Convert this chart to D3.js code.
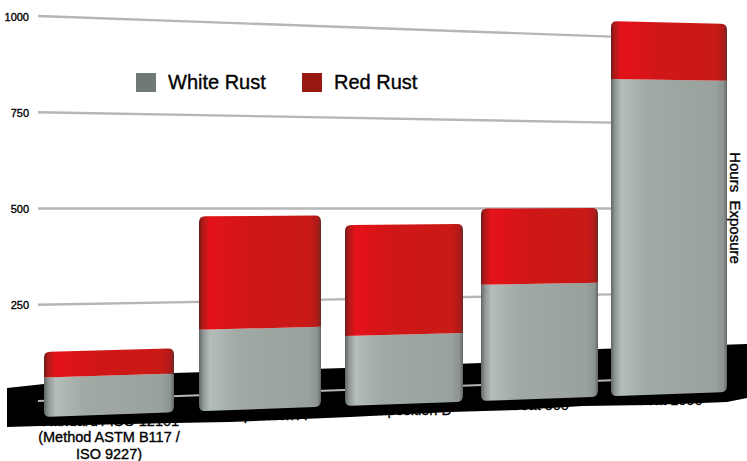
<!DOCTYPE html>
<html lang="en">
<head>
  <meta charset="UTF-8">
  <title>Hours Exposure - White Rust and Red Rust</title>
  <script src="https://d3js.org/d3.v7.min.js"></script>
  <style>
    html, body { margin: 0; padding: 0; background: #fff; }
    text { font-family: "Liberation Sans", Arial, sans-serif; fill: #000; stroke: #000; stroke-width: 0.35px; }
  </style>
</head>
<body>
  <div id="chart"></div>
  <script>
    const categories = ["Standard / ISO 12101", "Composition A", "Composition B", "Coat 500", "Coat 1000"];
    const whiteRust = [97, 205, 180, 305, 850];
    const redRust = [63, 285, 285, 200, 155];
    const yTicks = [0, 250, 500, 750, 1000];
    const seriesNames = ["White Rust", "Red Rust"];

    const width = 747, height = 461;

    const svg = d3.select("#chart").append("svg")
      .attr("width", width)
      .attr("height", height)
      .style("display", "block");

    // bars get narrower to the right, so the band scale goes through a warp
    const band = d3.scaleBand().domain(categories).range([0, 5]).paddingInner(0.15).paddingOuter(0.075);
    const warp = d3.scaleLinear()
      .domain(categories.flatMap(d => [band(d), band(d) + band.bandwidth()]))
      .range([44, 174, 199, 321, 345, 463, 481, 598, 611, 727]);

    // front plane of the bars
    const frontBase = d3.scaleLinear().domain([0, 747]).range([418.6, 391.3]);
    const frontK = d3.scaleLinear().domain([0, 747]).range([0.41, 0.365]);
    const frontY = (v, x) => frontBase(x) - v * frontK(x);

    // gridlines sit further back and fan out from the left side
    const gridLeft = d3.scaleLinear().domain([0, 1000]).range([401, 16]);
    const gridSlope = d3.scaleLinear().domain([0, 1000]).range([-0.036, 0.036]);
    const gridY = (v, x) => gridLeft(v) + (x - 38) * gridSlope(v);

    const defs = svg.append("defs");
    function shade(id, stops) {
      const g = defs.append("linearGradient").attr("id", id);
      stops.forEach(s => g.append("stop").attr("offset", s[0]).attr("stop-color", s[1]));
    }
    shade("grayShade", [[0, "#5f6665"], [0.035, "#8f9896"], [0.09, "#b4bdb9"], [0.3, "#a2aaa6"], [0.9, "#99a19d"], [0.97, "#8c9491"], [1, "#5f6665"]]);
    shade("redShade", [[0, "#6e1a18"], [0.03, "#b01a18"], [0.09, "#e5121a"], [0.4, "#d01616"], [0.9, "#c91a16"], [0.97, "#b01a18"], [1, "#6e2a26"]]);

    // gridlines
    svg.append("g").selectAll("line")
      .data(yTicks)
      .enter().append("line")
      .attr("x1", 38)
      .attr("x2", 612)
      .attr("y1", d => gridY(d, 38))
      .attr("y2", d => gridY(d, 612))
      .attr("stroke", "#b6b6b6")
      .attr("stroke-width", 2.4);

    // tick labels
    svg.append("g").selectAll("text")
      .data(yTicks.filter(d => d > 0))
      .enter().append("text")
      .attr("x", 29)
      .attr("y", d => gridLeft(d) + 4.5)
      .attr("text-anchor", "end")
      .attr("font-size", 11)
      .text(d => d);

    // category labels, the top lines end up under the black band
    const labelLines = [[categories[0], "(Method ASTM B117 /", "ISO 9227)"], [categories[1]], [categories[2]], [categories[3]], [categories[4]]];
    const labelY = d3.scaleLinear().domain([0, 747]).range([430, 402.5]);
    const labels = svg.append("g").selectAll("text")
      .data(categories)
      .enter().append("text")
      .attr("font-size", 14.5)
      .attr("text-anchor", "middle");
    labels.each(function(d, i) {
      const cx = warp(band(d) + band.bandwidth() / 2);
      labelLines[i].forEach((t, j) => {
        d3.select(this).append("tspan")
          .attr("x", cx)
          .attr("y", labelY(cx) + j * 16.5)
          .text(t);
      });
    });

    // black band along the foot of the chart
    const bandTop = [[7, 388], [44, 384], [174, 373], [345, 368], [481, 363], [598, 349], [747, 344]];
    const bandBottom = [[747, 398], [727, 402], [650, 405], [583, 406], [517, 410], [450, 412], [350, 417], [230, 422], [174, 423], [40, 426], [7, 427]];
    svg.append("path")
      .attr("d", d3.line()(bandTop.concat(bandBottom)) + "Z")
      .attr("fill", "#000");

    // gridline 0 shows again over the band
    svg.append("line")
      .attr("x1", 38).attr("x2", 612)
      .attr("y1", gridY(0, 38)).attr("y2", gridY(0, 612))
      .attr("stroke", "#b6b6b6").attr("stroke-width", 2);

    // stacked bars
    function barPath(x0, x1, v0, v1, r0, r1) {
      const p = d3.path();
      p.moveTo(x0, frontY(v0, x0) - r0);
      p.lineTo(x0, frontY(v1, x0) + r1);
      p.quadraticCurveTo(x0, frontY(v1, x0), x0 + r1, frontY(v1, x0 + r1));
      p.lineTo(x1 - r1, frontY(v1, x1 - r1));
      p.quadraticCurveTo(x1, frontY(v1, x1), x1, frontY(v1, x1) + r1);
      p.lineTo(x1, frontY(v0, x1) - r0);
      p.quadraticCurveTo(x1, frontY(v0, x1), x1 - r0, frontY(v0, x1 - r0));
      p.lineTo(x0 + r0, frontY(v0, x0 + r0));
      p.quadraticCurveTo(x0, frontY(v0, x0), x0, frontY(v0, x0) - r0);
      p.closePath();
      return p.toString();
    }

    const bars = svg.append("g").selectAll("g")
      .data(categories)
      .enter().append("g");

    bars.append("path")
      .attr("d", (d, i) => barPath(warp(band(d)), warp(band(d) + band.bandwidth()), 0, whiteRust[i], 6, 0))
      .attr("fill", "url(#grayShade)");

    bars.append("path")
      .attr("d", (d, i) => barPath(warp(band(d)), warp(band(d) + band.bandwidth()), whiteRust[i], whiteRust[i] + redRust[i], 0, 6))
      .attr("fill", "url(#redShade)");

    // legend
    const legendX = [136, 302];
    const legendColor = ["#6f7a78", "#9a1812"];
    const legend = svg.append("g").selectAll("g")
      .data(seriesNames)
      .enter().append("g")
      .attr("transform", (d, i) => `translate(${legendX[i]},73)`);
    legend.append("rect")
      .attr("width", 20)
      .attr("height", 19)
      .attr("fill", (d, i) => legendColor[i]);
    legend.append("text")
      .attr("x", 32)
      .attr("y", 16)
      .attr("font-size", 20)
      .text(d => d);

    // axis title on the right
    svg.append("text")
      .attr("transform", "translate(730,208) rotate(90)")
      .attr("text-anchor", "middle")
      .attr("font-size", 15)
      .style("white-space", "pre")
      .text("Hours  Exposure");
  </script>
</body>
</html>
